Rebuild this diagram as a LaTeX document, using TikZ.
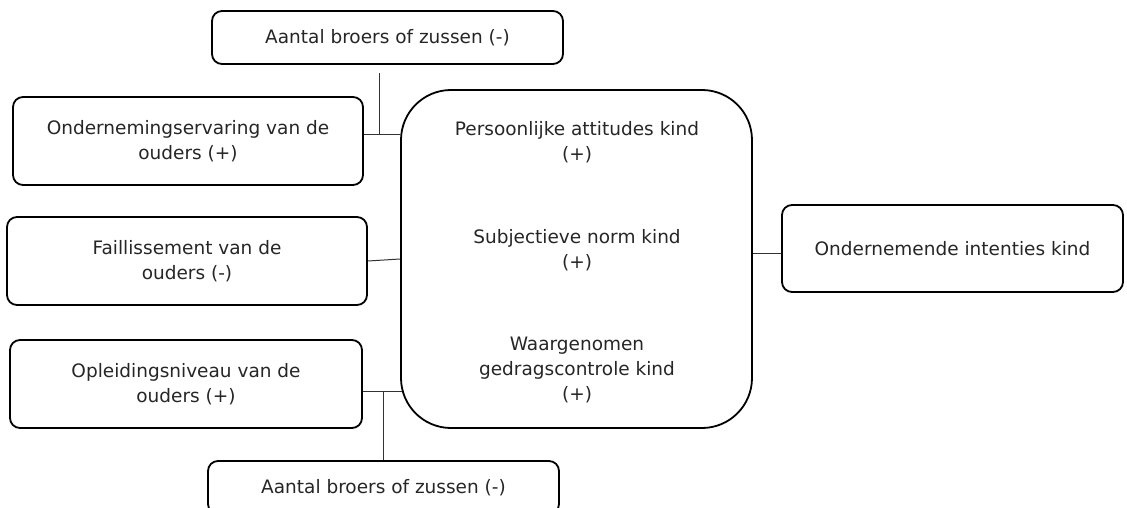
\documentclass[tikz,border=0pt]{standalone}
\usepackage{fontspec}
\setmainfont{DejaVu Sans}
\begin{document}
\begin{tikzpicture}[x=1pt,y=-1pt,
  every node/.style={font=\fontsize{18.5}{25}\selectfont, text=black!85, align=center},
  box/.style={draw=black, line width=1.8pt, rounded corners=10pt, inner sep=0pt},
  bigbox/.style={draw=black, line width=1.8pt, rounded corners=50pt, inner sep=0pt},
  conn/.style={draw=black!80, line width=1pt},
  lbl/.style={inner sep=0pt}]
\clip (0,0) rectangle (1127,508);
\useasboundingbox (0,0) rectangle (1127,508);

\node[box, minimum width=351pt, minimum height=53pt] (top) at (387.5,37.5) {Aantal broers of zussen (-)};
\node[box, minimum width=350pt, minimum height=88pt] (oe) at (188,141) {Ondernemingservaring van de\\ouders (+)};
\node[box, minimum width=360pt, minimum height=88pt] (fa) at (187,261) {Faillissement van de\\ouders (-)};
\node[box, minimum width=352pt, minimum height=88pt] (op) at (186,384) {Opleidingsniveau van de\\ouders (+)};
\node[box, minimum width=351pt, minimum height=53pt] (bot) at (383.5,487.5) {Aantal broers of zussen (-)};
\node[bigbox, minimum width=351pt, minimum height=338pt] (big) at (576.5,259) {};
\node[box, minimum width=341pt, minimum height=87pt] (rt) at (952.5,248.5) {Ondernemende intenties kind};

\node[lbl] (t1) at (577,142) {Persoonlijke attitudes kind\\(+)};
\node[lbl] (t2) at (577,250) {Subjectieve norm kind\\(+)};
\node[lbl] (t3) at (577,370) {Waargenomen\\gedragscontrole kind\\(+)};

\coordinate (j1) at (379,135);
\coordinate (j2) at (383,391);
\coordinate (j3) at (767,253);

\draw[conn] ([yshift=-8pt]top.south -| j1) -- (j1);
\draw[conn] (j1 -| oe.east) -- (j1 -| big.west);
\draw[conn] (fa.east) -- (big.west);
\draw[conn] (j2 -| op.east) -- ([xshift=2pt]j2 -| big.west);
\draw[conn] (j2) -- (j2 |- bot.north);
\draw[conn] (j3 -| big.east) -- (j3 -| rt.west);
\end{tikzpicture}
\end{document}
